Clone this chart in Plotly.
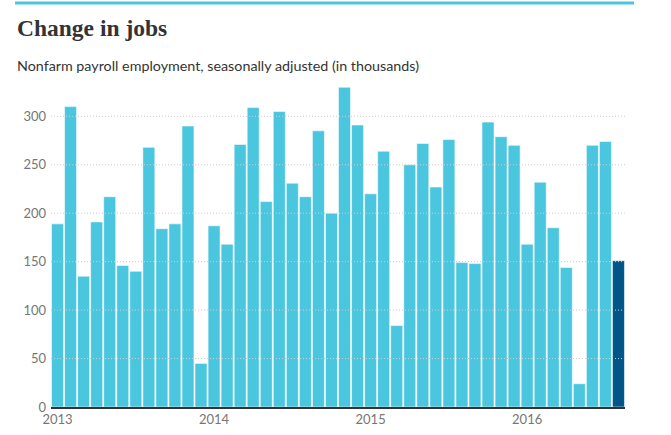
import plotly.graph_objects as go

months = [f"{y}-{m:02d}" for y in (2013, 2014, 2015, 2016) for m in range(1, 13)][:44]
values = [189, 310, 135, 191, 217, 146, 140, 268, 184, 189, 290, 45,
          187, 168, 271, 309, 212, 305, 231, 217, 285, 200, 330, 291,
          220, 264, 84, 250, 272, 227, 276, 149, 148, 294, 279, 270,
          168, 232, 185, 144, 24, 270, 274, 151]
year_ticks = ["2013", "2014", "2015", "2016"]
y_ticks = [0, 50, 100, 150, 200, 250, 300]

light = "#4bc6df"
dark = "#005689"
colors = [light] * (len(values) - 1) + [dark]
idx = list(range(len(values)))

fig = go.Figure()
fig.add_trace(go.Bar(
    x=idx, y=values,
    marker=dict(color=colors, line=dict(color="rgba(255,255,255,0.55)", width=1)),
    hovertext=months,
))

shapes = []
for t in y_ticks[1:]:
    shapes.append(dict(type="line", xref="paper", yref="y", x0=0, x1=1, y0=t, y1=t,
                       line=dict(color="#cfcfcf", width=1, dash="1px,2px"), layer="above"))
shapes.append(dict(type="line", xref="paper", yref="paper", x0=-36/574, x1=583/574, y0=1.255, y1=1.255,
                   line=dict(color=light, width=3)))

fig.update_layout(
    width=671, height=435,
    margin=dict(l=51, r=46, t=85, b=28),
    paper_bgcolor="white", plot_bgcolor="white",
    bargap=0.08,
    showlegend=False,
    shapes=shapes,
    xaxis=dict(range=[-0.5, 43.5], tickmode="array", tickvals=[0, 12, 24, 36], ticktext=year_ticks,
               showgrid=False, zeroline=False, showline=True, linecolor="#333", linewidth=1.5,
               ticks="", tickfont=dict(family="Lato, sans-serif", size=13, color="#767676"),
               layer="above traces", automargin=False),
    yaxis=dict(range=[0, 332.3], tickmode="array", tickvals=y_ticks, showgrid=False, zeroline=False,
               ticks="", ticklabelstandoff=4, automargin=False,
               tickfont=dict(family="Lato, sans-serif", size=13, color="#767676")),
    annotations=[
        dict(text="<b>Change in jobs</b>", xref="paper", yref="paper", x=-36/574, y=1.177,
             xanchor="left", yanchor="middle", showarrow=False,
             font=dict(family="Liberation Serif, serif", size=23.5, color="#333")),
        dict(text="Nonfarm payroll employment, seasonally adjusted (in thousands)", xref="paper", yref="paper",
             x=-36/574, y=1.062, xanchor="left", yanchor="middle", showarrow=False,
             font=dict(family="Lato, sans-serif", size=14.3, color="#333")),
    ],
)

fig.write_html("out.html", config={"displayModeBar": False},
               post_script="document.body.style.margin='0';")
